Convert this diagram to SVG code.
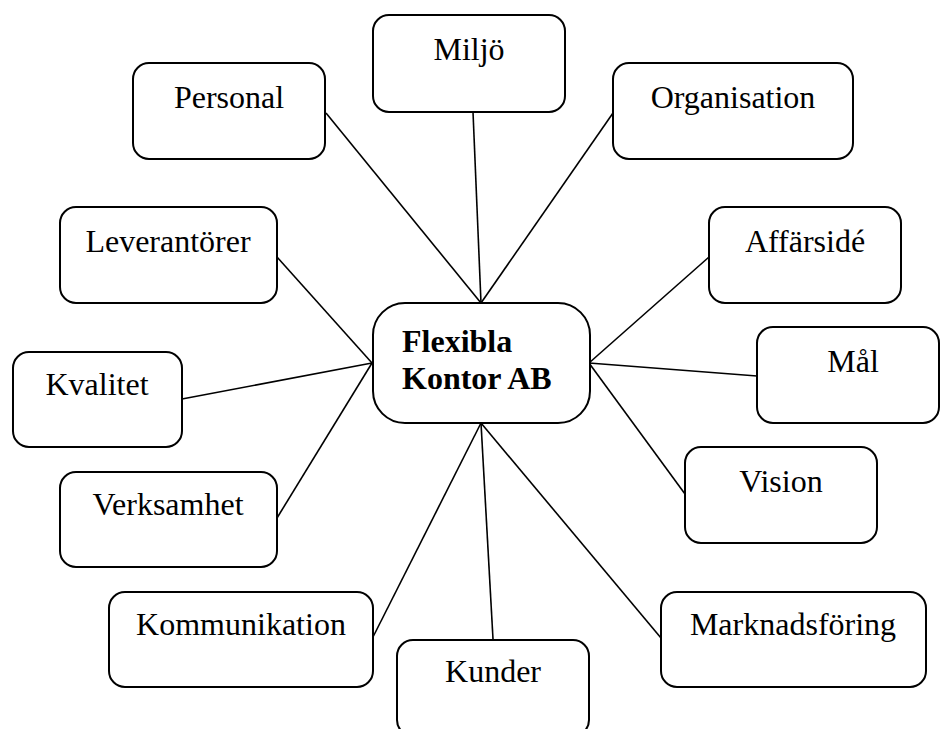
<svg xmlns="http://www.w3.org/2000/svg" width="940" height="729" viewBox="0 0 940 729">
  <style>
    .box { fill: #ffffff; stroke: #000000; stroke-width: 2; }
    .lbl { font-family: "Liberation Serif", "Times New Roman", serif; font-size: 32px; fill: #000000; text-anchor: middle; }
    .hub { font-family: "Liberation Serif", "Times New Roman", serif; font-size: 32px; font-weight: bold; fill: #000000; }
    .link { stroke: #000000; stroke-width: 1.6; fill: none; }
  </style>
  <rect width="940" height="729" fill="#ffffff"/>

  <!-- spokes from the central company box -->
  <g id="connectors">
    <line class="link" x1="326" y1="113" x2="481" y2="303"/>
    <line class="link" x1="473" y1="112" x2="481" y2="303"/>
    <line class="link" x1="613" y1="113" x2="481" y2="303"/>
    <line class="link" x1="277" y1="257" x2="372" y2="363"/>
    <line class="link" x1="182" y1="399" x2="372" y2="363"/>
    <line class="link" x1="277" y1="518" x2="372" y2="363"/>
    <line class="link" x1="709" y1="257" x2="589" y2="363"/>
    <line class="link" x1="757" y1="376" x2="589" y2="363"/>
    <line class="link" x1="685" y1="494" x2="589" y2="363"/>
    <line class="link" x1="373" y1="637" x2="481" y2="423"/>
    <line class="link" x1="493" y1="639" x2="481" y2="423"/>
    <line class="link" x1="661" y1="638" x2="481" y2="423"/>
  </g>

  <g id="hub">
    <rect class="box" x="373" y="303" width="217" height="120" rx="32" ry="32"/>
    <text class="hub" x="402" y="352">Flexibla</text>
    <text class="hub" x="402" y="389">Kontor AB</text>
  </g>

  <g id="personal">
    <rect class="box" x="133" y="63" width="192" height="96" rx="16" ry="16"/>
    <text class="lbl" x="229" y="108">Personal</text>
  </g>

  <g id="miljo">
    <rect class="box" x="373" y="15" width="192" height="97" rx="16" ry="16"/>
    <text class="lbl" x="469" y="60">Miljö</text>
  </g>

  <g id="organisation">
    <rect class="box" x="613" y="63" width="240" height="96" rx="16" ry="16"/>
    <text class="lbl" x="733" y="108">Organisation</text>
  </g>

  <g id="leverantorer">
    <rect class="box" x="60" y="207" width="217" height="96" rx="16" ry="16"/>
    <text class="lbl" x="168" y="252">Leverantörer</text>
  </g>

  <g id="affarside">
    <rect class="box" x="709" y="207" width="192" height="96" rx="16" ry="16"/>
    <text class="lbl" x="805" y="252">Affärsidé</text>
  </g>

  <g id="kvalitet">
    <rect class="box" x="13" y="352" width="169" height="95" rx="16" ry="16"/>
    <text class="lbl" x="97" y="395">Kvalitet</text>
  </g>

  <g id="mal">
    <rect class="box" x="757" y="327" width="182" height="96" rx="16" ry="16"/>
    <text class="lbl" x="853" y="372">Mål</text>
  </g>

  <g id="verksamhet">
    <rect class="box" x="60" y="472" width="217" height="95" rx="16" ry="16"/>
    <text class="lbl" x="168" y="515">Verksamhet</text>
  </g>

  <g id="vision">
    <rect class="box" x="685" y="447" width="192" height="96" rx="16" ry="16"/>
    <text class="lbl" x="781" y="492">Vision</text>
  </g>

  <g id="kommunikation">
    <rect class="box" x="109" y="592" width="264" height="95" rx="16" ry="16"/>
    <text class="lbl" x="241" y="635">Kommunikation</text>
  </g>

  <g id="kunder">
    <rect class="box" x="397" y="640" width="192" height="96" rx="16" ry="16"/>
    <text class="lbl" x="493" y="682">Kunder</text>
  </g>

  <g id="marknadsforing">
    <rect class="box" x="661" y="592" width="265" height="95" rx="16" ry="16"/>
    <text class="lbl" x="793" y="635">Marknadsföring</text>
  </g>
</svg>
